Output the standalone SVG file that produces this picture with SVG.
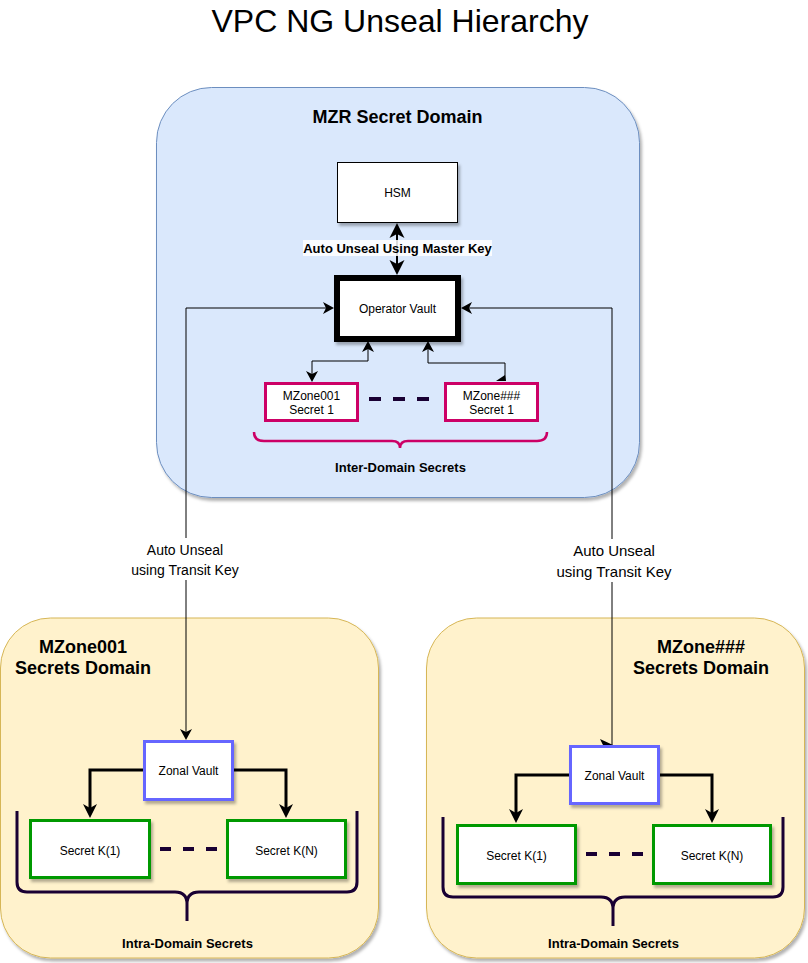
<svg xmlns="http://www.w3.org/2000/svg" width="808" height="963" viewBox="0 0 808 963">
<style>
text{font-family:"Liberation Sans",Arial,Helvetica,sans-serif;fill:#000;text-anchor:middle}
.t12{font-size:12px}
.b13{font-size:13px;font-weight:bold}
.b18{font-size:18px;font-weight:bold}
.wire{fill:none;stroke:#000;stroke-width:1}
.wire2{fill:none;stroke:#000;stroke-width:2}
.wire3{fill:none;stroke:#000;stroke-width:3}
.box{fill:#fff;stroke:#000;stroke-width:1}
.sec{fill:#fff;stroke:#cc0066;stroke-width:3}
.zv{fill:#fff;stroke:#6666ff;stroke-width:3}
.sk{fill:#fff;stroke:#009900;stroke-width:3}
.dash{fill:none;stroke:#190033;stroke-width:4;stroke-dasharray:12 12}
.brace{fill:none;stroke:#190033;stroke-width:3}
.mzr{fill:#dae8fc;stroke:#6c8ebf;stroke-width:1}
.zone{fill:#fff2cc;stroke:#d6b656;stroke-width:1}
</style>
<defs>
<filter id="sh" x="-10%" y="-10%" width="130%" height="130%">
<feDropShadow dx="2" dy="3" stdDeviation="1.5" flood-color="#000" flood-opacity="0.3"/>
</filter>
<marker id="a1" markerUnits="userSpaceOnUse" markerWidth="12" markerHeight="12" refX="3" refY="6" orient="auto-start-reverse" overflow="visible">
<path d="M0,0 L11,6 L0,12 L3,6 Z" fill="#000"/>
</marker>
<marker id="a2" markerUnits="userSpaceOnUse" markerWidth="15" markerHeight="15" refX="4" refY="7.5" orient="auto-start-reverse" overflow="visible">
<path d="M0,0 L15,7.5 L0,15 L4,7.5 Z" fill="#000"/>
</marker>
<marker id="a3" markerUnits="userSpaceOnUse" markerWidth="14" markerHeight="14" refX="4" refY="7" orient="auto-start-reverse" overflow="visible">
<path d="M0,0 L14,7 L0,14 L4,7 Z" fill="#000"/>
</marker>
</defs>
<rect width="808" height="963" fill="#fff"/>
<text x="400" y="32" style="font-size:32px">VPC NG Unseal Hierarchy</text>

<g id="mzr-domain">
<rect class="mzr" x="156.5" y="87.5" width="483" height="410" rx="55" filter="url(#sh)"/>
<text class="b18" x="397.5" y="123">MZR Secret Domain</text>
</g>
<g id="mzone001-domain">
<rect class="zone" x="0.5" y="618" width="378" height="340" rx="50" filter="url(#sh)"/>
<text class="b18" x="83" y="653">MZone001</text>
<text class="b18" x="83" y="674">Secrets Domain</text>
</g>
<g id="mzonexxx-domain">
<rect class="zone" x="426.5" y="618" width="378" height="340" rx="50" filter="url(#sh)"/>
<text class="b18" x="701" y="653">MZone###</text>
<text class="b18" x="701" y="674">Secrets Domain</text>
</g>

<g id="connectors">
<path class="wire2" d="M397,234 V264" marker-start="url(#a2)" marker-end="url(#a2)"/>
<rect x="303" y="240" width="189" height="16" fill="#fff" fill-opacity="0.85"/>
<text class="b13" x="397.5" y="253">Auto Unseal Using Master Key</text>
<path class="wire" d="M312,374 V361 H368 V349" marker-start="url(#a1)" marker-end="url(#a1)"/>
<path class="wire" d="M505,381 V363 H428 V349" marker-end="url(#a1)"/>
<polygon points="496,381 505,375 506,381" fill="#000"/>
<path class="wire" d="M326,308 H186 V732" marker-start="url(#a1)" marker-end="url(#a1)"/>
<rect x="128" y="538" width="114" height="42" fill="#fff"/>
<text x="185" y="555" style="font-size:14px">Auto Unseal</text>
<text x="185" y="575" style="font-size:14px">using Transit Key</text>
<path class="wire" d="M469,308 H612 V745" marker-start="url(#a1)"/>
<path d="M600,739 L613,745 L600,752 L603,745 Z" fill="#000"/>
<rect x="553" y="539" width="122" height="43" fill="#fff"/>
<text x="614" y="556" style="font-size:15px">Auto Unseal</text>
<text x="614" y="577" style="font-size:15px">using Transit Key</text>
<path class="wire3" d="M143,770 H90 V808" marker-end="url(#a3)"/>
<path class="wire3" d="M234,770 H286 V808" marker-end="url(#a3)"/>
<path class="wire3" d="M569,775 H516 V813" marker-end="url(#a3)"/>
<path class="wire3" d="M660,775 H712 V813" marker-end="url(#a3)"/>
</g>

<g id="hsm">
<rect class="box" x="337.5" y="162.5" width="120" height="60" filter="url(#sh)"/>
<text class="t12" x="397.5" y="197">HSM</text>
</g>
<g id="operator-vault">
<rect x="337" y="278" width="121" height="61" fill="#fff" stroke="#000" stroke-width="6" filter="url(#sh)"/>
<text class="t12" x="397.5" y="313">Operator Vault</text>
</g>
<g id="mzone001-secret1">
<rect class="sec" x="265.5" y="383.5" width="92" height="37"/>
<text class="t12" x="311.5" y="400">MZone001</text>
<text class="t12" x="311.5" y="414">Secret 1</text>
</g>
<g id="mzonexxx-secret1">
<rect class="sec" x="445.5" y="383.5" width="92" height="37"/>
<text class="t12" x="491.5" y="400">MZone###</text>
<text class="t12" x="491.5" y="414">Secret 1</text>
</g>
<g id="inter-dash">
<line class="dash" x1="369" y1="399" x2="430" y2="399"/>
</g>
<g id="inter-domain-secrets">
<path d="M254,432 Q254,441 264,441 H392 Q400,441 400,448 Q400,441 408,441 H537 Q547,441 547,432" fill="none" stroke="#cc0066" stroke-width="2.5"/>
<text class="b13" x="400.5" y="472">Inter-Domain Secrets</text>
</g>

<g id="zonal-vault-1">
<rect class="zv" x="144.5" y="741.5" width="88" height="58" filter="url(#sh)"/>
<text class="t12" x="188.5" y="775">Zonal Vault</text>
</g>
<g id="secret-k1-1">
<rect class="sk" x="30.5" y="820.5" width="119" height="57" filter="url(#sh)"/>
<text class="t12" x="90" y="855">Secret K(1)</text>
</g>
<g id="secret-kn-1">
<rect class="sk" x="227.5" y="820.5" width="118" height="57" filter="url(#sh)"/>
<text class="t12" x="286.5" y="855">Secret K(N)</text>
</g>
<g id="dash-1">
<line class="dash" x1="160" y1="849" x2="218" y2="849" style="stroke-dasharray:11 12"/>
</g>
<g id="intra-1">
<path class="brace" d="M17,811 V882 Q17,892 27,892 H175 Q187,892 187,904 V921 M187,904 Q187,892 199,892 H347 Q357,892 357,882 V811"/>
<text class="b13" x="187.5" y="948">Intra-Domain Secrets</text>
</g>

<g id="zonal-vault-2">
<rect class="zv" x="570.5" y="746.5" width="88" height="57" filter="url(#sh)"/>
<text class="t12" x="614.5" y="780">Zonal Vault</text>
</g>
<g id="secret-k1-2">
<rect class="sk" x="457.5" y="825.5" width="118" height="58" filter="url(#sh)"/>
<text class="t12" x="516.5" y="860">Secret K(1)</text>
</g>
<g id="secret-kn-2">
<rect class="sk" x="653.5" y="825.5" width="117" height="58" filter="url(#sh)"/>
<text class="t12" x="712" y="860">Secret K(N)</text>
</g>
<g id="dash-2">
<line class="dash" x1="586" y1="854" x2="644" y2="854" style="stroke-dasharray:11 12"/>
</g>
<g id="intra-2">
<path class="brace" d="M443,817 V887 Q443,897 453,897 H601 Q613,897 613,909 V926 M613,909 Q613,897 625,897 H773 Q783,897 783,887 V817"/>
<text class="b13" x="613.5" y="948">Intra-Domain Secrets</text>
</g>
</svg>
